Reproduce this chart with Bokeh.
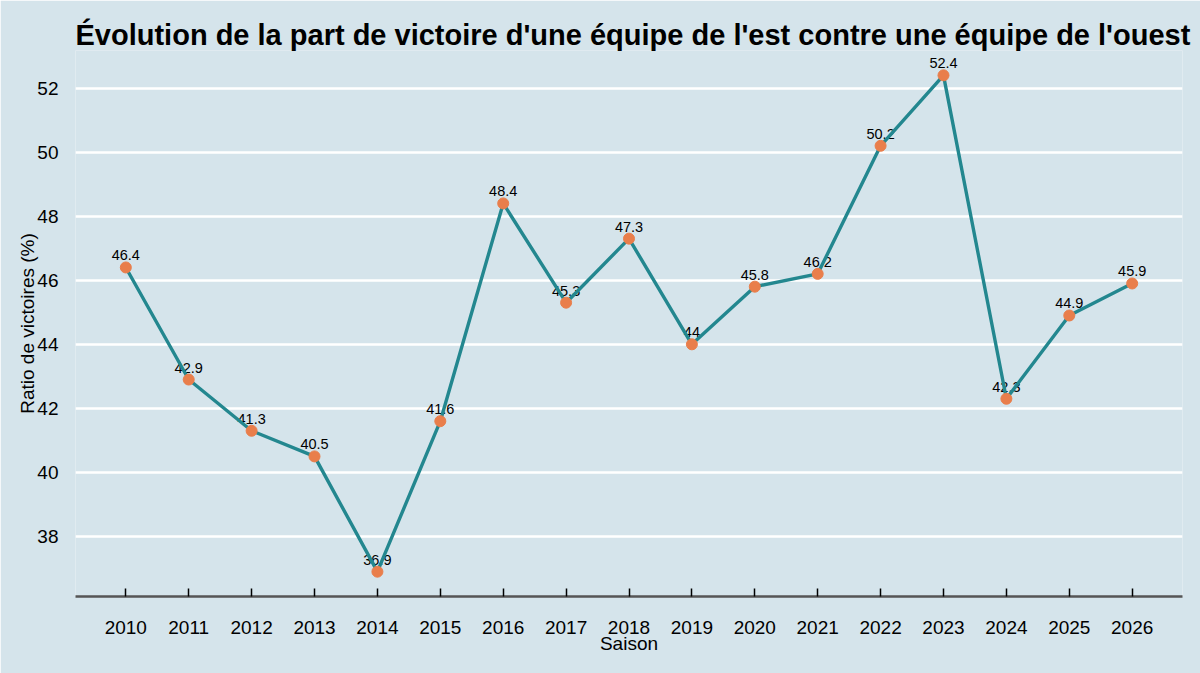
from bokeh.plotting import figure
from bokeh.models import ColumnDataSource, FixedTicker, Range1d
from bokeh.core.properties import value
from bokeh.embed import file_html
from bokeh.resources import INLINE

# Win ratio of eastern teams against western teams, by season
seasons = [2010, 2011, 2012, 2013, 2014, 2015, 2016, 2017, 2018,
           2019, 2020, 2021, 2022, 2023, 2024, 2025, 2026]
ratio = [46.4, 42.9, 41.3, 40.5, 36.9, 41.6, 48.4, 45.3, 47.3,
         44.0, 45.8, 46.2, 50.2, 52.4, 42.3, 44.9, 45.9]
y_ticks = [38, 40, 42, 44, 46, 48, 50, 52]

BG = "#d5e4eb"
LINE = "#23878f"
POINT = "#e97e4b"
FONT = "Liberation Sans"

src = ColumnDataSource(dict(
    x=seasons, y=ratio, lab=[f"{v:g}" for v in ratio]))

# ggplot-style 5% expansion on both scales
xpad = (max(seasons) - min(seasons)) * 0.05
ypad = (max(ratio) - min(ratio)) * 0.05

p = figure(width=1200, height=673, output_backend="svg", toolbar_location=None,
           x_range=Range1d(min(seasons) - xpad, max(seasons) + xpad),
           y_range=Range1d(min(ratio) - ypad, max(ratio) + ypad),
           min_border_left=75, min_border_right=18,
           min_border_top=50, min_border_bottom=77)

p.background_fill_color = BG
p.border_fill_color = BG
p.outline_line_color = None

p.title.text = "Évolution de la part de victoire d'une équipe de l'est contre une équipe de l'ouest"
p.title.text_font = FONT
p.title.text_font_size = "29px"
p.title.text_font_style = "bold"
p.title.text_color = "black"
p.title.align = "left"
p.title.standoff = 0

# grid: horizontal white lines only
p.xgrid.grid_line_color = None
p.ygrid.grid_line_color = "white"
p.ygrid.grid_line_width = 2.5

# x axis
p.xaxis.ticker = FixedTicker(ticks=seasons)
p.xaxis.axis_line_color = "#555555"
p.xaxis.axis_line_width = 2.5
p.xaxis.major_tick_line_color = "black"
p.xaxis.major_tick_line_width = 1.5
p.xaxis.major_tick_in = 8
p.xaxis.major_tick_out = 0
p.xaxis.minor_tick_line_color = None
p.xaxis.major_label_standoff = 24
p.xaxis.axis_label = "Saison"
p.xaxis.axis_label_standoff = -4

# y axis
p.yaxis.ticker = FixedTicker(ticks=y_ticks)
p.yaxis.axis_line_color = None
p.yaxis.major_tick_line_color = None
p.yaxis.minor_tick_line_color = None
p.yaxis.major_tick_in = 0
p.yaxis.major_tick_out = 0
p.yaxis.major_label_standoff = 17
p.yaxis.axis_label = "Ratio de victoires (%)"
p.yaxis.axis_label_standoff = -4

for ax in (p.xaxis[0], p.yaxis[0]):
    ax.major_label_text_font = FONT
    ax.major_label_text_font_size = "19px"
    ax.major_label_text_color = "black"
    ax.axis_label_text_font = FONT
    ax.axis_label_text_font_size = "19px"
    ax.axis_label_text_font_style = "normal"
    ax.axis_label_text_color = "black"

# value labels sit under the line
p.text(x="x", y="y", text="lab", source=src, text_align="center",
       text_baseline="alphabetic", y_offset=-12,
       text_font=value(FONT), text_font_size="14.5px", text_color="black")
p.line(x="x", y="y", source=src, line_color=LINE, line_width=3.4)
p.scatter(x="x", y="y", source=src, size=11, fill_color=POINT, line_color=POINT)

open("out.html", "w").write(file_html(p, INLINE))
